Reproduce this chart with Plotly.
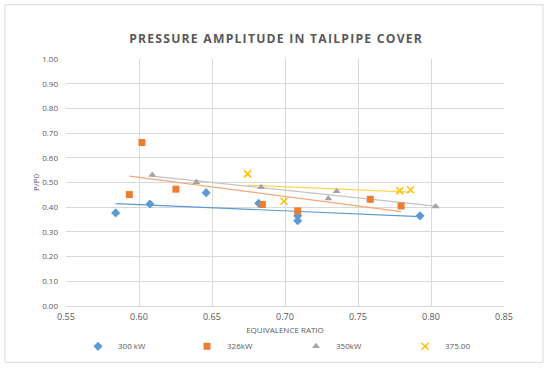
import numpy as np
import plotly.graph_objects as go

# Data
x_300 = [0.584, 0.6075, 0.646, 0.682, 0.7087, 0.7087, 0.7925]
y_300 = [0.377, 0.413, 0.459, 0.416, 0.365, 0.345, 0.365]

x_326 = [0.5934, 0.602, 0.6253, 0.6845, 0.7087, 0.7584, 0.7795]
y_326 = [0.451, 0.662, 0.473, 0.411, 0.385, 0.432, 0.405]

x_350 = [0.6091, 0.6393, 0.6836, 0.7297, 0.7354, 0.8032]
y_350 = [0.530, 0.501, 0.481, 0.435, 0.465, 0.403]

x_375 = [0.6744, 0.6993, 0.7786, 0.786]
y_375 = [0.535, 0.424, 0.466, 0.471]

names = ["300 kW", "326kW", "350kW", "375.00"]
x_ticks = [0.55, 0.60, 0.65, 0.70, 0.75, 0.80, 0.85]
y_ticks = [0.0, 0.1, 0.2, 0.3, 0.4, 0.5, 0.6, 0.7, 0.8, 0.9, 1.0]

series = [
    (x_300, y_300, names[0], "#5B9BD5", "diamond", 7, "#5B9BD5"),
    (x_326, y_326, names[1], "#ED7D31", "square", 7, "#F4A777"),
    (x_350, y_350, names[2], "#A5A5A5", "triangle-up", 7, "#C3C3C3"),
    (x_375, y_375, names[3], "#FFC000", "x-thin", 7, "#FFD54F"),
]

fig = go.Figure()
for xs, ys, nm, col, sym, sz, tcol in series:
    xa = np.array(xs); ya = np.array(ys)
    m, b = np.polyfit(xa, ya, 1)
    xl = np.array([xa.min(), xa.max()])
    fig.add_trace(go.Scatter(x=xl, y=m * xl + b, mode="lines",
                             line=dict(color=tcol, width=1.2),
                             showlegend=False, hoverinfo="skip"))
for xs, ys, nm, col, sym, sz, tcol in series:
    mk = dict(color=col, symbol=sym, size=sz)
    if sym == "x-thin":
        mk["line"] = dict(color=col, width=1.5)
    fig.add_trace(go.Scatter(x=xs, y=ys, mode="markers", name=nm, marker=mk))

grey = "#595959"
PL, PR, PT, PB = 66, 504, 58.5, 306.5
W, H = 550, 370
pw, ph = PR - PL, PB - PT

def px(x):
    return (x - PL) / pw

def py(y):
    return (PB - y) / ph

title_txt = "PRESSURE AMPLITUDE IN TAILPIPE COVER"
title_txt = "\u200a".join(list(title_txt))

fig.update_layout(
    width=W, height=H,
    paper_bgcolor="white", plot_bgcolor="white",
    margin=dict(l=PL, r=W - PR, t=PT, b=H - PB, autoexpand=False),
    font=dict(family="Open Sans", color=grey, size=9),
    title=dict(text="<b>" + title_txt + "</b>", xref="paper",
               x=(275.5 - PL) / pw, xanchor="center", y=1 - 39 / H, yanchor="middle",
               font=dict(family="Open Sans", size=12.2, color=grey)),
    xaxis=dict(range=[0.55, 0.85], tickvals=x_ticks, tickformat=".2f",
               showgrid=True, gridcolor="#D9D9D9", gridwidth=1,
               zeroline=False, showline=True, linecolor="#D9D9D9",
               ticks="", ticklen=0, ticklabelstandoff=2, tickfont=dict(size=9, color=grey),
               automargin=False,
               title=dict(text="EQUIVALENCE RATIO", font=dict(size=8, color=grey), standoff=5)),
    yaxis=dict(range=[0, 1.0], tickvals=y_ticks, tickformat=".2f",
               showgrid=True, gridcolor="#D9D9D9", gridwidth=1,
               zeroline=False, showline=False, automargin=False,
               ticks="", ticklabelstandoff=7, tickfont=dict(size=8, color=grey),
               title=dict(text="P/P0", font=dict(size=8, color=grey), standoff=1)),
    legend=dict(orientation="h", x=px(78), xanchor="left", y=py(347), yanchor="middle",
                entrywidth=64, entrywidthmode="pixels", itemwidth=30,
                font=dict(size=8, color=grey), bgcolor="rgba(0,0,0,0)"),
    shapes=[dict(type="rect", xref="paper", yref="paper",
                 x0=px(5), x1=px(543), y0=py(363), y1=py(4),
                 line=dict(color="#D9D9D9", width=1), fillcolor="rgba(0,0,0,0)", layer="below")],
)

fig.write_html("out.html", config={"displayModeBar": False},
               post_script="document.body.style.margin='0';")
